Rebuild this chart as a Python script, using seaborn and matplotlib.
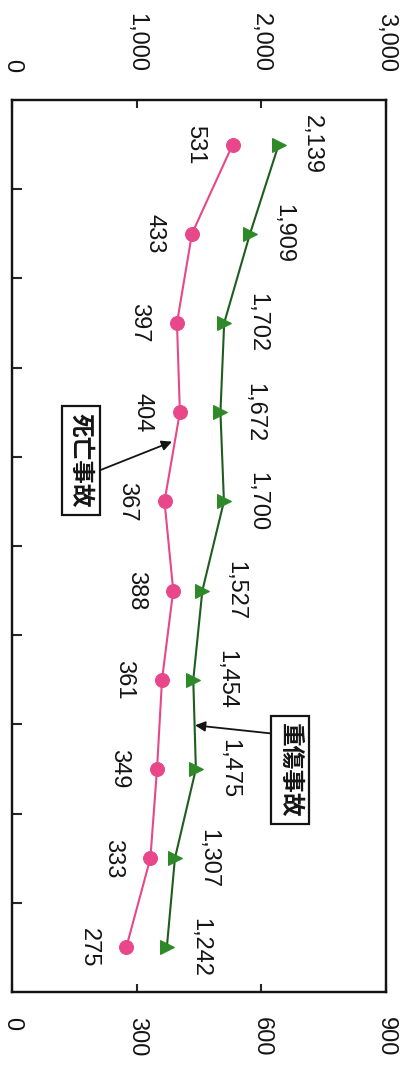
import matplotlib
matplotlib.use("Agg")
import matplotlib.pyplot as plt
import seaborn as sns
import numpy as np
import pandas as pd

# Yearly accident counts (ten periods, top to bottom)
periods = list(range(1, 11))
serious = [2139, 1909, 1702, 1672, 1700, 1527, 1454, 1475, 1307, 1242]   # 重傷事故
fatal = [531, 433, 397, 404, 367, 388, 361, 349, 333, 275]                # 死亡事故

serious_ticks = [0, 1000, 2000, 3000]
serious_tick_labels = ["0", "1,000", "2,000", "3,000"]
fatal_ticks = [0, 300, 600, 900]
fatal_tick_labels = ["0", "300", "600", "900"]

sns.set_theme(style="white")
plt.rcParams["font.family"] = ["Liberation Sans Narrow", "Liberation Sans",
                               "Noto Sans CJK JP", "DejaVu Sans"]

PINK = "#E8478A"
GREEN_MK = "#2E8A28"
GREEN_LN = "#1F5C1F"
INK = "#141414"

fig = plt.figure(figsize=(4.03, 10.82), dpi=100)
ax = fig.add_axes([12 / 403, 90 / 1082, 374 / 403, 892 / 1082])
ax2 = ax.twiny()

df = pd.DataFrame({"period": periods, "serious": serious, "fatal": fatal})

sns.lineplot(data=df, x="serious", y="period", orient="y", sort=False, ax=ax,
             color=GREEN_LN, lw=1.5, marker=">", markersize=10,
             markerfacecolor=GREEN_MK, markeredgecolor=GREEN_MK)
sns.lineplot(data=df, x="fatal", y="period", orient="y", sort=False, ax=ax2,
             color=PINK, lw=1.5, marker="o", markersize=10,
             markerfacecolor=PINK, markeredgecolor=PINK)

ax.set_xlim(0, 3000)
ax2.set_xlim(0, 900)
ax.set_ylim(10.5, 0.5)

label_fs = 17

# Value labels
for p, v in zip(periods, serious):
    ax.annotate(f"{v:,}", (v, p), xytext=(24, 0), textcoords="offset points",
                rotation=-90, ha="center", va="center", fontsize=label_fs,
                color=INK)
for p, v in zip(periods, fatal):
    ax2.annotate(f"{v:,}", (v, p), xytext=(-27, 0), textcoords="offset points",
                 rotation=-90, ha="center", va="center", fontsize=label_fs,
                 color=INK)

# Axes: serious scale on top, fatal scale on bottom
ax.xaxis.set_ticks_position("top")
ax.xaxis.set_label_position("top")
ax.set_xticks(serious_ticks)
ax.set_xticklabels(serious_tick_labels, rotation=-90, fontsize=label_fs,
                   color=INK)
ax.tick_params(axis="x", direction="in", length=6, width=1.5, pad=20,
               top=True, bottom=False, labeltop=True, labelbottom=False)

ax2.xaxis.set_ticks_position("bottom")
ax2.xaxis.set_label_position("bottom")
ax2.set_xticks(fatal_ticks)
ax2.set_xticklabels(fatal_tick_labels, rotation=-90, fontsize=label_fs,
                    color=INK)
ax2.tick_params(axis="x", direction="in", length=6, width=1.5, pad=18,
                bottom=True, top=False, labelbottom=True, labeltop=False)

ax.set_yticks(np.arange(1.5, 10.5, 1.0))
ax.set_yticklabels([])
ax.tick_params(axis="y", direction="in", length=7, width=1.5, left=True,
               right=False, labelleft=False)
ax2.tick_params(axis="y", left=False, right=False)

for a in (ax, ax2):
    a.set_xlabel("")
    a.set_ylabel("")
    for s in a.spines.values():
        s.set_visible(True)
        s.set_color(INK)
        s.set_linewidth(1.6)

# Series name callouts
box = dict(boxstyle="square,pad=0.3", fc="white", ec=INK, lw=1.6)
arrow = dict(arrowstyle="-|>", color=INK, lw=1.3, mutation_scale=15,
             shrinkA=0, shrinkB=0)
cjk = ["Noto Sans CJK JP", "DejaVu Sans"]

ax2.text(166, 4.54, "死亡事故", rotation=-90, ha="center", va="center",
         fontsize=17, fontweight="bold", family=cjk, color=INK, bbox=box,
         zorder=5)
ax2.annotate("", xy=(385, 4.33), xytext=(212, 4.65), textcoords="data",
             arrowprops=arrow)

ax.text(2230, 8.01, "重傷事故", rotation=-90, ha="center", va="center",
        fontsize=17, fontweight="bold", family=cjk, color=INK, bbox=box,
        zorder=5)
ax.annotate("", xy=(1468, 7.51), xytext=(2069, 7.60), textcoords="data",
            arrowprops=arrow)

fig.savefig("out.png", dpi=100, facecolor="white")
